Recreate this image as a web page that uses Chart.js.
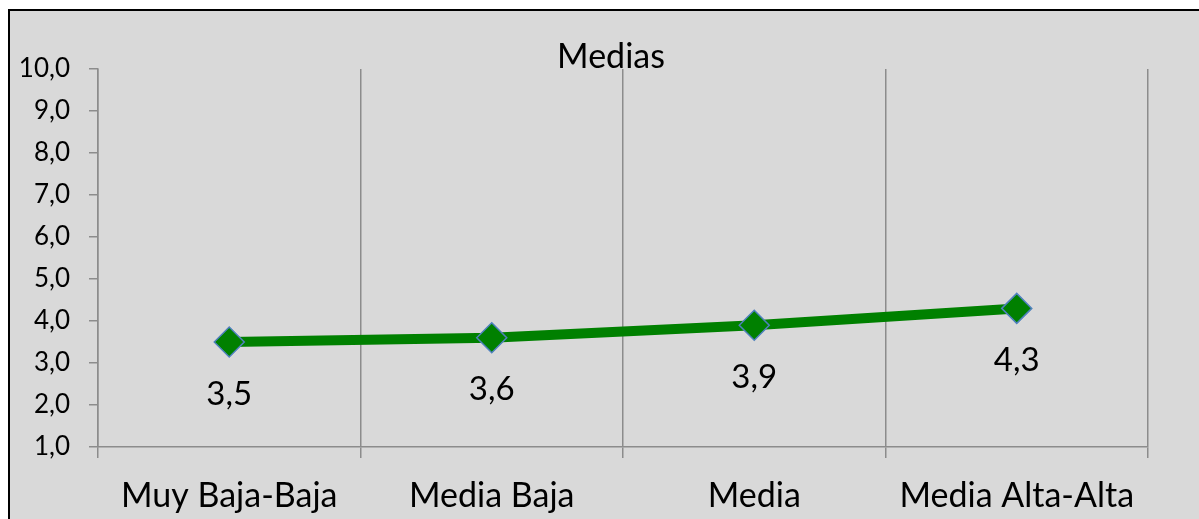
<!DOCTYPE html>
<html>
<head>
<meta charset="utf-8">
<script src="https://cdn.jsdelivr.net/npm/chart.js@4.4.0/dist/chart.umd.min.js"></script>
<style>
  html, body { margin: 0; padding: 0; background: #fff; overflow: hidden; }
  #frame {
    position: absolute; left: 8px; top: 9px; width: 1300px; height: 700px;
    background: #d9d9d9; border: 2px solid #000;
  }
  #c { position: absolute; left: 0; top: 0; }
</style>
</head>
<body>
<div id="frame"></div>
<canvas id="c" width="1199" height="519"></canvas>
<script>
const categories = ["Muy Baja-Baja", "Media Baja", "Media", "Media Alta-Alta"];
const medias = [3.5, 3.6, 3.9, 4.3];
const yMin = 1, yMax = 10, yStep = 1;
const titleText = "Medias";

const fmt = v => Number(v).toFixed(1).replace('.', ',');
const FONT = "Lato, 'Open Sans', sans-serif";

// title is centred on the whole frame, not on the plot, so draw it here
const frameTitle = {
    id: 'frameTitle',
    afterDraw(chart) {
        const ctx = chart.ctx;
        ctx.save();
        ctx.font = "34px " + FONT;
        ctx.fillStyle = "#000";
        ctx.textAlign = "center";
        ctx.textBaseline = "middle";
        ctx.fillText(titleText, 611, 57);
        ctx.restore();
    }
};

// labels under each point, like the spreadsheet data labels
const valueLabels = {
    id: 'valueLabels',
    afterDatasetsDraw(chart) {
        const ctx = chart.ctx;
        const meta = chart.getDatasetMeta(0);
        ctx.save();
        ctx.font = "33px " + FONT;
        ctx.fillStyle = "#000";
        ctx.textAlign = "center";
        ctx.textBaseline = "middle";
        meta.data.forEach((pt, i) => {
            ctx.fillText(fmt(medias[i]), pt.x, pt.y + 52);
        });
        ctx.restore();
    }
};

new Chart(document.getElementById('c'), {
    type: 'line',
    data: {
        labels: categories,
        datasets: [{
            label: titleText,
            data: medias,
            borderColor: "#008000",
            borderWidth: 10,
            backgroundColor: "#008000",
            pointStyle: 'rectRot',
            pointRadius: 15,
            pointBackgroundColor: "#008000",
            pointBorderColor: "#4f81bd",
            pointBorderWidth: 1.5,
            tension: 0
        }]
    },
    options: {
        responsive: false,
        animation: false,
        layout: { padding: { left: 18, right: 51, top: 69, bottom: 0 } },
        plugins: {
            legend: { display: false },
            tooltip: { enabled: false },
            title: { display: false }
        },
        scales: {
            x: {
                offset: true,
                grid: { offset: true, color: "#8c8c8c", lineWidth: 1.5, tickLength: 11 },
                border: { color: "#8c8c8c", width: 1.5 },
                ticks: { color: "#000", padding: 18, font: { family: FONT, size: 34 } },
                afterFit: s => { s.height = 72; }
            },
            y: {
                min: yMin, max: yMax,
                grid: { drawOnChartArea: false, color: "#8c8c8c", lineWidth: 1.5, tickLength: 9 },
                border: { color: "#8c8c8c", width: 1.5 },
                ticks: {
                    stepSize: yStep, color: "#000", padding: 19,
                    font: { family: FONT, size: 26 },
                    callback: v => fmt(v)
                },
                afterFit: s => { s.width = 80; }
            }
        }
    },
    plugins: [valueLabels, frameTitle]
});
</script>
</body>
</html>
